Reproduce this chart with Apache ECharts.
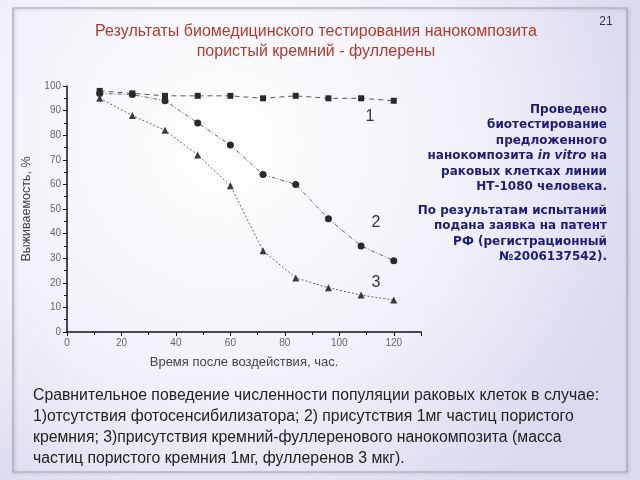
<!DOCTYPE html>
<html><head><meta charset="utf-8">
<script src="https://cdn.jsdelivr.net/npm/echarts@6/dist/echarts.min.js"></script>
<style>html,body{margin:0;padding:0;}#c{width:640px;height:480px;}</style>
</head><body><div id="c"></div>
<script>
const hours = [12, 24, 36, 48, 60, 72, 84, 96, 108, 120];
const series1 = [98, 97, 96, 96, 96, 95, 96, 95, 95, 94];
const series2 = [97, 96.5, 94, 85, 76, 64, 60, 46, 35, 29];
const series3 = [95, 88, 82, 72, 59.5, 33, 22, 18, 15, 13];
const seriesNames = ['1', '2', '3'];
const xTicks = [0, 20, 40, 60, 80, 100, 120];
const yTicks = [0, 10, 20, 30, 40, 50, 60, 70, 80, 90, 100];

const chart = echarts.init(document.getElementById('c'));
const pair = arr => hours.map((h, i) => [h, arr[i]]);
const font = '"Liberation Sans", Arial, sans-serif';
const boldFont = '"DejaVu Sans", sans-serif';

chart.setOption({
  backgroundColor: {
    type: 'radial', x: 0.35, y: 0.3, r: 0.9,
    colorStops: [{offset: 0, color: '#ffffff'}, {offset: 0.6, color: '#f0f0f9'}, {offset: 1, color: '#d9d9f0'}]
  },
  animation: false,
  textStyle: {fontFamily: font},
  grid: {left: 67, right: 219, top: 86, bottom: 148},
  xAxis: {
    type: 'value', min: 0, max: 130, interval: 20,
    name: 'Время после воздействия, час.', nameLocation: 'middle', nameGap: 24,
    nameTextStyle: {fontSize: 13, color: '#444', fontFamily: font},
    axisLine: {lineStyle: {color: '#111', width: 1.5}},
    axisTick: {length: 4, lineStyle: {color: '#111'}},
    minorTick: {show: true, splitNumber: 2, length: 3, lineStyle: {color: '#111'}},
    axisLabel: {fontSize: 10, color: '#666', margin: 6,
      formatter: v => xTicks.indexOf(v) >= 0 ? String(v) : ''},
    splitLine: {show: false}
  },
  yAxis: {
    type: 'value', min: 0, max: 100, interval: 10,
    name: 'Выживаемость, %', nameLocation: 'middle', nameGap: 34, nameRotate: 90,
    nameTextStyle: {fontSize: 12.5, color: '#444', fontFamily: font},
    axisLine: {show: true, lineStyle: {color: '#111', width: 1.5}},
    axisTick: {show: true, length: 4, lineStyle: {color: '#111'}},
    minorTick: {show: true, splitNumber: 2, length: 3, lineStyle: {color: '#111'}},
    axisLabel: {fontSize: 10, color: '#666', margin: 6,
      formatter: v => yTicks.indexOf(v) >= 0 ? String(v) : ''},
    splitLine: {show: false}
  },
  series: [
    {name: seriesNames[0], type: 'line', data: pair(series1), symbol: 'rect', symbolSize: 6,
     itemStyle: {color: '#2a2a2a'}, lineStyle: {color: '#555', width: 1, type: [5, 4]}, z: 4},
    {name: seriesNames[1], type: 'line', data: pair(series2), symbol: 'circle', symbolSize: 7,
     itemStyle: {color: '#2a2a2a'}, lineStyle: {color: '#666', width: 1, type: [4, 2, 1, 2]}, z: 3},
    {name: seriesNames[2], type: 'line', data: pair(series3), symbol: 'triangle', symbolSize: 7,
     itemStyle: {color: '#3a3a3a'}, lineStyle: {color: '#666', width: 1, type: [2, 2]}, z: 3}
  ],
  graphic: [
    {type: 'rect', shape: {x: 13, y: 8, width: 614, height: 464}, z: -10,
     style: {fill: 'rgba(255,255,255,0)', stroke: '#a8a8b0', lineWidth: 1.2,
       shadowBlur: 3, shadowColor: 'rgba(0,0,0,0.25)', shadowOffsetX: 1, shadowOffsetY: 1}},
    {type: 'text', x: 316, y: 32, style: {text: 'Результаты биомедицинского тестирования нанокомпозита',
      fill: '#b33a2a', fontSize: 16, fontFamily: font, align: 'center', verticalAlign: 'middle'}},
    {type: 'text', x: 316, y: 52, style: {text: 'пористый кремний - фуллерены',
      fill: '#b33a2a', fontSize: 16, fontFamily: font, align: 'center', verticalAlign: 'middle'}},
    {type: 'text', x: 606, y: 22, style: {text: '21', fill: '#333', fontSize: 12, fontFamily: font,
      align: 'center', verticalAlign: 'middle'}},
    {type: 'text', x: 370, y: 117, style: {text: '1', fill: '#333', fontSize: 16, fontFamily: font, align: 'center', verticalAlign: 'middle'}},
    {type: 'text', x: 376, y: 223, style: {text: '2', fill: '#333', fontSize: 16, fontFamily: font, align: 'center', verticalAlign: 'middle'}},
    {type: 'text', x: 376, y: 283, style: {text: '3', fill: '#333', fontSize: 16, fontFamily: font, align: 'center', verticalAlign: 'middle'}},
    {type: 'text', x: 607, y: 102, style: {
      text: 'Проведено\nбиотестирование\nпредложенного\nнанокомпозита {i|in vitro} на\nраковых клетках линии\nНТ-1080 человека.',
      fill: '#1c1c7a', fontSize: 12, fontWeight: 'bold', fontFamily: boldFont,
      align: 'right', verticalAlign: 'top', lineHeight: 15.5,
      rich: {i: {fontStyle: 'italic', fontWeight: 'bold', fontSize: 12, fill: '#1c1c7a', fontFamily: boldFont, lineHeight: 15.5}}}},
    {type: 'text', x: 607, y: 203, style: {
      text: 'По результатам испытаний\nподана заявка на патент\nРФ (регистрационный\n№2006137542).',
      fill: '#1c1c7a', fontSize: 12, fontWeight: 'bold', fontFamily: boldFont,
      align: 'right', verticalAlign: 'top', lineHeight: 15.5}},
    {type: 'text', x: 33, y: 385, style: {
      text: 'Сравнительное поведение численности популяции раковых клеток в случае:\n1)отсутствия фотосенсибилизатора; 2) присутствия 1мг частиц пористого\nкремния; 3)присутствия кремний-фуллеренового нанокомпозита (масса\nчастиц пористого кремния 1мг, фуллеренов 3 мкг).',
      fill: '#222', fontSize: 15.8, fontFamily: font, align: 'left', verticalAlign: 'top', lineHeight: 21}}
  ]
});
</script></body></html>
